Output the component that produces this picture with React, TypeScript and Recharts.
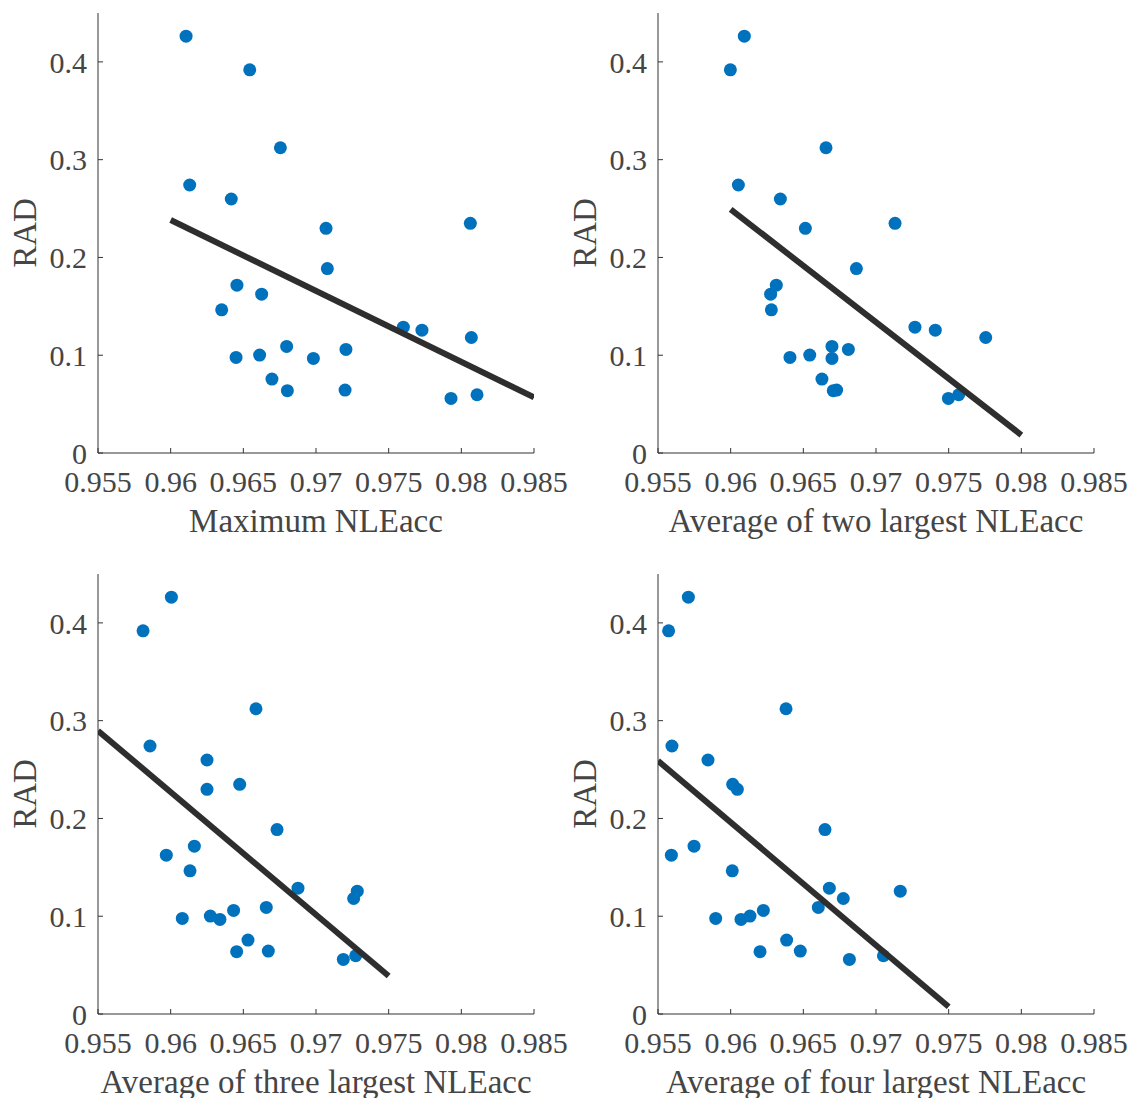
import React from 'react';
import { ScatterChart, Scatter, XAxis, YAxis } from 'recharts';

// RAD values shared by every panel (same samples, different NLEacc summary)
const RAD = [
  0.4263, 0.3919, 0.3122, 0.2741, 0.2598, 0.2298, 0.2349, 0.1886,
  0.1716, 0.1624, 0.1464, 0.1287, 0.1256, 0.1181, 0.109, 0.1059,
  0.0977, 0.1001, 0.0967, 0.0756, 0.0637, 0.0644, 0.0558, 0.0596,
];

const MAX_NLE = [
  0.96106, 0.96544, 0.96755, 0.96131, 0.96417, 0.97069, 0.98062, 0.97078,
  0.96456, 0.96626, 0.96351, 0.97601, 0.97729, 0.98069, 0.96798, 0.97206,
  0.9645, 0.96612, 0.96982, 0.96697, 0.96803, 0.972, 0.97929, 0.98108,
];
const AVG2_NLE = [
  0.96094, 0.95998, 0.96656, 0.96053, 0.96342, 0.96514, 0.97131, 0.96865,
  0.96314, 0.96275, 0.9628, 0.97268, 0.97408, 0.97755, 0.96697, 0.9681,
  0.96408, 0.96544, 0.96697, 0.96628, 0.96706, 0.96729, 0.97498, 0.97569,
];
const AVG3_NLE = [
  0.96005, 0.9581, 0.96587, 0.95858, 0.9625, 0.9625, 0.96475, 0.96732,
  0.96163, 0.9597, 0.96133, 0.96876, 0.97284, 0.97259, 0.96658, 0.96433,
  0.9608, 0.96273, 0.96339, 0.96532, 0.96454, 0.96672, 0.97188, 0.97273,
];
const AVG4_NLE = [
  0.95709, 0.95573, 0.96381, 0.95596, 0.95844, 0.96046, 0.96014, 0.96649,
  0.95748, 0.95592, 0.96011, 0.96679, 0.97167, 0.96775, 0.96603, 0.96225,
  0.95897, 0.96133, 0.96071, 0.96385, 0.96202, 0.96479, 0.96817, 0.97051,
];

// linear fit end points [x, y]
const FIT_MAX = [[0.96, 0.2383], [0.985, 0.0569]];
const FIT_AVG2 = [[0.96, 0.2492], [0.98, 0.0184]];
const FIT_AVG3 = [[0.955, 0.2897], [0.975, 0.0388]];
const FIT_AVG4 = [[0.955, 0.2589], [0.975, 0.0075]];

const X_TICKS = [0.955, 0.96, 0.965, 0.97, 0.975, 0.98, 0.985];
const Y_TICKS = [0, 0.1, 0.2, 0.3, 0.4];

const PANELS = [
  { title: 'Maximum NLEacc', xs: MAX_NLE, fit: FIT_MAX, left: 0, top: 0 },
  { title: 'Average of two largest NLEacc', xs: AVG2_NLE, fit: FIT_AVG2, left: 560, top: 0 },
  { title: 'Average of three largest NLEacc', xs: AVG3_NLE, fit: FIT_AVG3, left: 0, top: 561 },
  { title: 'Average of four largest NLEacc', xs: AVG4_NLE, fit: FIT_AVG4, left: 560, top: 561 },
];

const FONT = 'Liberation Serif';
const TEXT = '#454545';
const AXIS = '#333333';

const dot = (p: any) => <circle cx={p.cx} cy={p.cy} r={6.5} fill="#0072BD" />;

function Panel({ title, xs, fit }: { title: string; xs: number[]; fit: number[][] }) {
  const pts = xs.map((x, i) => ({ x, y: RAD[i] }));
  const line = fit.map(([x, y]) => ({ x, y }));
  return (
    <ScatterChart width={570} height={560} margin={{ top: 13, right: 36, left: 0, bottom: 0 }}>
      <XAxis
        type="number"
        dataKey="x"
        domain={[0.955, 0.985]}
        ticks={X_TICKS}
        interval={0}
        allowDataOverflow
        height={107}
        stroke={AXIS}
        tickSize={-5}
        tickMargin={23}
        tick={{ fill: TEXT, fontSize: 30, fontFamily: FONT }}
        label={(props: any) => {
          const vb = props.viewBox;
          return (
            <text x={vb.x + vb.width / 2} y={vb.y + 79} textAnchor="middle" fill={TEXT}
              fontSize={33} fontFamily={FONT}>{title}</text>
          );
        }}
      />
      <YAxis
        type="number"
        dataKey="y"
        domain={[0, 0.45]}
        ticks={Y_TICKS}
        interval={0}
        allowDataOverflow
        width={98}
        stroke={AXIS}
        tickSize={-5}
        tickMargin={16}
        tick={{ fill: TEXT, fontSize: 30, fontFamily: FONT }}
        label={(props: any) => {
          const vb = props.viewBox;
          const cy = vb.y + vb.height / 2;
          return (
            <text x={36} y={cy} transform={`rotate(-90 36 ${cy})`} textAnchor="middle" fill={TEXT}
              fontSize={33} fontFamily={FONT}>RAD</text>
          );
        }}
      />
      <Scatter data={pts} shape={dot} isAnimationActive={false} />
      <Scatter data={line} line={{ stroke: '#2e2e2e', strokeWidth: 6 }} shape={() => <g />}
        isAnimationActive={false} />
    </ScatterChart>
  );
}

export default function App() {
  return (
    <div style={{ position: 'absolute', left: 0, top: 0, width: 1131, height: 1098, background: '#fff', fontFamily: FONT }}>
      {PANELS.map((p) => (
        <div key={p.title} style={{ position: 'absolute', left: p.left, top: p.top }}>
          <Panel title={p.title} xs={p.xs} fit={p.fit} />
        </div>
      ))}
    </div>
  );
}
